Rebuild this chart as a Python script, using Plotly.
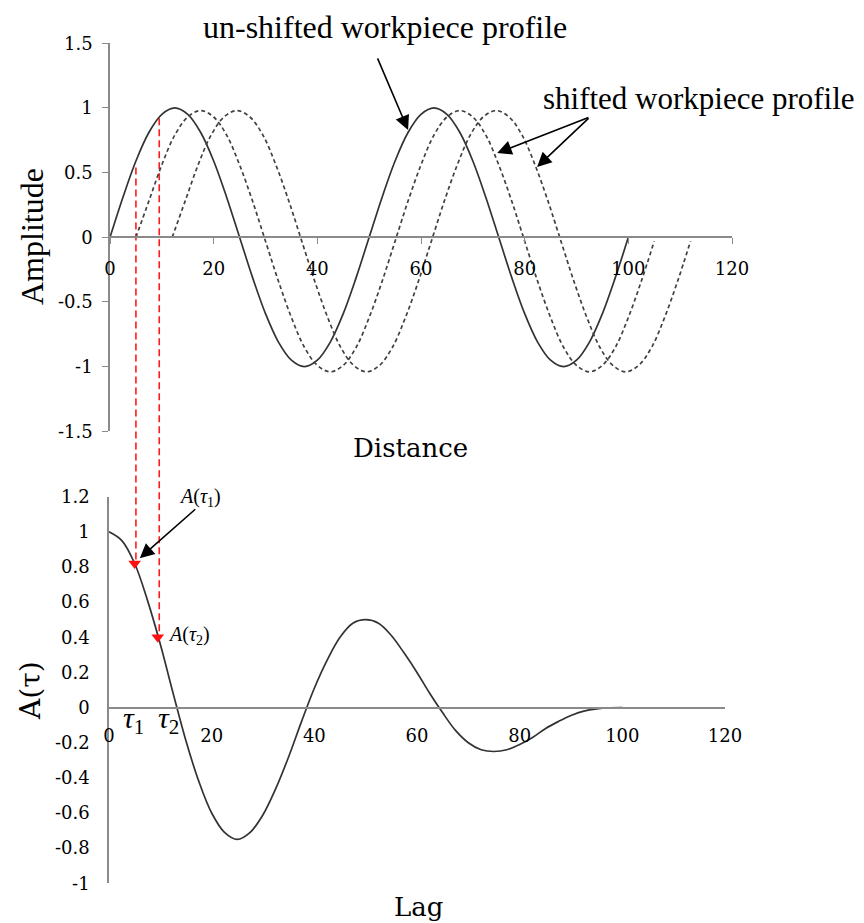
import plotly.graph_objects as go

# Sample positions along the workpiece and the measured profile heights
distance = [0, 2.5, 5, 7.5, 10, 12.5, 15, 17.5, 20, 22.5, 25, 27.5, 30, 32.5, 35, 37.5,
            40, 42.5, 45, 47.5, 50, 52.5, 55, 57.5, 60, 62.5, 65, 67.5, 70, 72.5, 75,
            77.5, 80, 82.5, 85, 87.5, 90, 92.5, 95, 97.5, 100]
profile = [0, 0.31, 0.59, 0.81, 0.95, 1, 0.95, 0.81, 0.59, 0.31, 0, -0.31, -0.59, -0.81,
           -0.95, -1, -0.95, -0.81, -0.59, -0.31, 0, 0.31, 0.59, 0.81, 0.95, 1, 0.95, 0.81,
           0.59, 0.31, 0, -0.31, -0.59, -0.81, -0.95, -1, -0.95, -0.81, -0.59, -0.31, 0]
# Shifted copies of the profile (slightly offset in height)
shifted_profile = [0, 0.28, 0.56, 0.79, 0.93, 0.98, 0.93, 0.79, 0.56, 0.28, -0.03, -0.34,
                   -0.62, -0.85, -0.99, -1.04, -0.99, -0.85, -0.62, -0.34, -0.03, 0.28, 0.56,
                   0.79, 0.93, 0.98, 0.93, 0.79, 0.56, 0.28, -0.03, -0.34, -0.62, -0.85,
                   -0.99, -1.04, -0.99, -0.85, -0.62, -0.34, -0.03]
shifts = [5, 12]

# Autocorrelation of the profile against lag
lag = [0, 2.5, 5, 7.5, 10, 12.5, 15, 17.5, 20, 22.5, 25, 27.5, 30, 32.5, 35, 37.5,
       40, 42.5, 45, 47.5, 50, 52.5, 55, 57.5, 60, 62.5, 65, 67.5, 70, 72.5, 75,
       77.5, 80, 82.5, 85, 87.5, 90, 92.5, 95, 97.5, 100]
acf = [1.0, 0.95, 0.82, 0.61, 0.36, 0.08, -0.19, -0.42, -0.60, -0.71, -0.75, -0.71, -0.61,
       -0.46, -0.28, -0.08, 0.11, 0.27, 0.40, 0.48, 0.50, 0.48, 0.41, 0.31, 0.20, 0.08,
       -0.03, -0.13, -0.20, -0.24, -0.25, -0.24, -0.21, -0.17, -0.12, -0.08, -0.045, -0.02,
       -0.007, -0.001, 0.0]

# Two example lags, the profile height there and the resulting A(tau)
tau = [5, 9.5]
profile_at_tau = [0.54, 0.92]
acf_at_tau = [0.82, 0.40]

# Tick values / labels
x_ticks = [0, 20, 40, 60, 80, 100, 120]
x_tick_text = ["0", "20", "40", "60", "80", "100", "120"]
top_y_ticks = [1.5, 1, 0.5, 0, -0.5, -1, -1.5]
top_y_text = ["1.5", "1", "0.5", "0", "-0.5", "-1", "-1.5"]
bot_y_ticks = [1.2, 1, 0.8, 0.6, 0.4, 0.2, 0, -0.2, -0.4, -0.6, -0.8, -1]
bot_y_text = ["1.2", "1", "0.8", "0.6", "0.4", "0.2", "0", "-0.2", "-0.4", "-0.6", "-0.8", "-1"]

W, H = 864, 923
TOP_X_RANGE = [0, 120]
TOP_Y_RANGE = [-1.5, 1.5]
BOT_X_RANGE = [0, 120]
BOT_Y_RANGE = [-1, 1.2]
TOP_X_DOM = [110 / W, 732 / W]
TOP_Y_DOM = [1 - 431.3 / H, 1 - 43.3 / H]
BOT_X_DOM = [109 / W, 725 / W]
BOT_Y_DOM = [1 - 883.3 / H, 1 - 496.7 / H]


def to_paper(v, rng, dom):
    return dom[0] + (v - rng[0]) / (rng[1] - rng[0]) * (dom[1] - dom[0])


def px(x, y):
    return x / W, 1 - y / H


AXIS_GREY = "#8a8a8a"
TICK_FONT = dict(family="DejaVu Serif", size=18, color="#000000")
SERIF = "Liberation Serif"

fig = go.Figure()

# Top: profile and its shifted copies
fig.add_trace(go.Scatter(x=distance, y=profile, mode="lines", line_shape="spline",
                         line=dict(color="#333333", width=1.7), xaxis="x", yaxis="y"))
for s in shifts:
    fig.add_trace(go.Scatter(x=[d + s for d in distance], y=shifted_profile, mode="lines",
                             line_shape="spline",
                             line=dict(color="#404040", width=1.7, dash="4px,3px"),
                             xaxis="x", yaxis="y"))

# Bottom: autocorrelation
fig.add_trace(go.Scatter(x=lag, y=acf, mode="lines", line_shape="spline",
                         line=dict(color="#333333", width=1.7), xaxis="x2", yaxis="y2"))
fig.add_trace(go.Scatter(x=tau, y=acf_at_tau, mode="markers",
                         marker=dict(symbol="triangle-down", size=11, color="#ff1010"),
                         xaxis="x2", yaxis="y2"))

# Red dashed drop lines linking the two plots
shapes = []
for t, p, a in zip(tau, profile_at_tau, acf_at_tau):
    shapes.append(dict(type="line", xref="x", yref="paper", x0=t, x1=t,
                       y0=to_paper(p, TOP_Y_RANGE, TOP_Y_DOM),
                       y1=to_paper(a, BOT_Y_RANGE, BOT_Y_DOM),
                       line=dict(color="#ff1a1a", width=1.6, dash="7px,4px"), layer="below"))

annotations = []


def label(text, x, y, size, family=SERIF, angle=0):
    xp, yp = px(x, y)
    annotations.append(dict(text=text, x=xp, y=yp, xref="paper", yref="paper",
                            xanchor="center", yanchor="middle",
                            showarrow=False, textangle=angle,
                            font=dict(family=family, size=size, color="#000000")))


def arrow(x, y, ax, ay, xr, yr):
    annotations.append(dict(text="", x=x, y=y, ax=ax, ay=ay, xref=xr, yref=yr,
                            axref=xr, ayref=yr, showarrow=True, arrowhead=2,
                            arrowsize=1.8, arrowwidth=1.6, arrowcolor="#000000",
                            standoff=0, startstandoff=0))


label("un-shifted workpiece profile", 385, 27, 32)
label("shifted workpiece profile", 699, 98, 31)
label("Amplitude", 32, 237, 32, angle=-90)
label("Distance", 410, 448, 26, family="DejaVu Serif")
label("A(τ)", 30, 691, 28, family="DejaVu Serif", angle=-90)
label("Lag", 418, 907, 26, family="DejaVu Serif")
label("<i>A</i>(<i>τ</i><sub>1</sub>)", 200, 497, 20)
label("<i>A</i>(<i>τ</i><sub>2</sub>)", 189, 635, 20)
label("<i>τ</i><sub>1</sub>", 133, 720, 30)
label("<i>τ</i><sub>2</sub>", 168, 720, 30)

arrow(57.5, 0.83, 51.5, 1.395, "x", "y")
arrow(74.7, 0.652, 92.6, 0.93, "x", "y")
arrow(82.4, 0.544, 92.6, 0.93, "x", "y")
arrow(6.0, 0.85, 17.1, 1.136, "x2", "y2")

top_zero = to_paper(0, TOP_Y_RANGE, TOP_Y_DOM)
bot_zero = to_paper(0, BOT_Y_RANGE, BOT_Y_DOM)

fig.update_layout(
    width=W, height=H, margin=dict(l=0, r=0, t=0, b=0, autoexpand=False),
    paper_bgcolor="white", plot_bgcolor="white", showlegend=False,
    xaxis=dict(domain=TOP_X_DOM, range=TOP_X_RANGE, anchor="free", position=top_zero,
               showline=True, linecolor=AXIS_GREY, linewidth=1.5, ticks="outside",
               ticklen=6, tickwidth=1.2, tickcolor=AXIS_GREY, tickvals=x_ticks,
               ticktext=x_tick_text, tickfont=TICK_FONT, ticklabelstandoff=9,
               showgrid=False, zeroline=False, automargin=False),
    yaxis=dict(domain=TOP_Y_DOM, range=TOP_Y_RANGE, anchor="x", showline=True,
               linecolor=AXIS_GREY, linewidth=1.5, ticks="outside", ticklen=6,
               tickwidth=1.2, tickcolor=AXIS_GREY, tickvals=top_y_ticks,
               ticktext=top_y_text, tickfont=TICK_FONT, ticklabelstandoff=6,
               showgrid=False, zeroline=False, automargin=False),
    xaxis2=dict(domain=BOT_X_DOM, range=BOT_X_RANGE, anchor="free", position=bot_zero,
                showline=True, linecolor=AXIS_GREY, linewidth=1.5, ticks="",
                tickvals=x_ticks, ticktext=x_tick_text, tickfont=TICK_FONT,
                ticklabelstandoff=12, showgrid=False, zeroline=False, automargin=False),
    yaxis2=dict(domain=BOT_Y_DOM, range=BOT_Y_RANGE, anchor="x2", showline=True,
                linecolor=AXIS_GREY, linewidth=1.5, ticks="", tickvals=bot_y_ticks,
                ticktext=bot_y_text, tickfont=TICK_FONT, ticklabelstandoff=14,
                showgrid=False, zeroline=False, automargin=False),
    shapes=shapes, annotations=annotations,
)

fig.write_html("out.html")
